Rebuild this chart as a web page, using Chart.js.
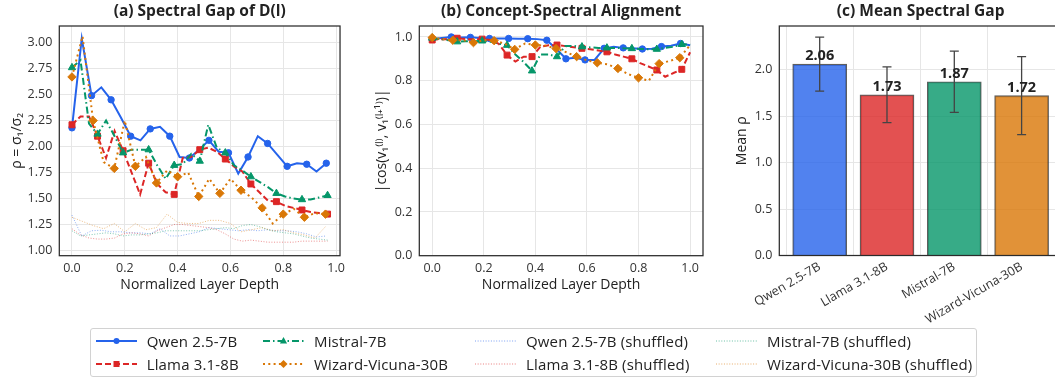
<!DOCTYPE html>
<html lang="en">
<head>
<meta charset="UTF-8">
<title>Spectral gap across layers</title>
<script src="https://cdn.jsdelivr.net/npm/chart.js@4.4.1/dist/chart.umd.min.js"></script>
<style>
    body {
        margin: 0;
        width: 1055px;
        height: 381px;
        overflow: hidden;
        background: #fff;
        position: relative;
        font-family: 'Open Sans', sans-serif;
    }
    .panel { position: absolute; top: 0; }
    #boxA { left: 0; }
    #boxB { left: 360px; }
    #boxC { left: 715px; }
    .legend {
        position: absolute;
        left: 90px;
        top: 328px;
        width: 887px;
        height: 49px;
        border: 1px solid #d2d2d2;
        border-radius: 3px;
        box-sizing: border-box;
    }
    .item {
        position: absolute;
        height: 20px;
        display: flex;
        align-items: center;
        font-size: 15px;
        letter-spacing: 0.15px;
        color: #222;
        white-space: nowrap;
    }
    .item svg { margin-right: 10px; }
</style>
</head>
<body>

<div class="panel" id="boxA"><canvas id="chartA" width="350" height="300"></canvas></div>
<div class="panel" id="boxB"><canvas id="chartB" width="350" height="300"></canvas></div>
<div class="panel" id="boxC"><canvas id="chartC" width="350" height="330"></canvas></div>
<div class="legend" id="legend"></div>

<script>
    // models, colours, layer transitions per model and marker spacing
    const models = ['Qwen 2.5-7B', 'Llama 3.1-8B', 'Mistral-7B', 'Wizard-Vicuna-30B'];
    const colors = ['#2563eb', '#dc2626', '#059669', '#d97706'];
    const layerSteps = [27, 31, 31, 25];
    const markEvery = [2, 3, 3, 2];

    // (a) spectral gap rho = s1/s2 per layer
    const gapQwen = [2.18, 3.04, 2.49, 2.57, 2.45, 2.28, 2.10, 2.06, 2.17, 2.19, 2.10, 1.90, 1.89, 1.97,
        2.06, 1.95, 1.94, 1.74, 1.90, 2.10, 2.03, 1.92, 1.81, 1.84, 1.83, 1.76, 1.84];
    const gapLlama = [2.21, 2.29, 2.29, 2.10, 1.89, 2.15, 1.96, 1.75, 1.54, 1.84, 1.64, 1.56, 1.54, 1.89,
        1.90, 1.97, 1.99, 1.95, 1.88, 1.81, 1.76, 1.64, 1.56, 1.48, 1.47, 1.43, 1.41, 1.39, 1.37, 1.36, 1.35];
    const gapMistral = [2.76, 2.83, 2.22, 2.12, 2.25, 2.10, 1.94, 1.97, 1.97, 1.97, 1.82, 1.69, 1.82, 1.83,
        1.93, 1.86, 2.21, 1.99, 1.94, 1.82, 1.77, 1.71, 1.66, 1.61, 1.55, 1.52, 1.50, 1.49, 1.49, 1.51, 1.53];
    const gapWizard = [2.67, 3.06, 2.25, 1.85, 1.79, 2.25, 1.81, 1.90, 1.65, 1.77, 1.71, 1.75, 1.52, 1.69,
        1.55, 1.69, 1.58, 1.51, 1.41, 1.26, 1.35, 1.40, 1.32, 1.36, 1.35];

    // (a) shuffled baselines
    const shufQwen = [1.34, 1.14, 1.19, 1.195, 1.18, 1.18, 1.17, 1.17, 1.16, 1.21, 1.14, 1.14, 1.16, 1.18,
        1.22, 1.21, 1.20, 1.19, 1.20, 1.19, 1.20, 1.19, 1.19, 1.18, 1.16, 1.13, 1.14];
    const shufLlama = [1.21, 1.15, 1.12, 1.11, 1.11, 1.12, 1.16, 1.17, 1.16, 1.14, 1.19, 1.22, 1.25, 1.25,
        1.24, 1.23, 1.22, 1.20, 1.16, 1.11, 1.09, 1.10, 1.09, 1.08, 1.08, 1.08, 1.08, 1.09, 1.09, 1.09, 1.09];
    const shufMistral = [1.19, 1.14, 1.15, 1.16, 1.17, 1.16, 1.14, 1.15, 1.15, 1.16, 1.17, 1.19, 1.19, 1.19,
        1.19, 1.19, 1.20, 1.21, 1.22, 1.21, 1.24, 1.25, 1.23, 1.20, 1.18, 1.17, 1.16, 1.14, 1.12, 1.11, 1.10];
    const shufWizard = [1.32, 1.28, 1.24, 1.21, 1.26, 1.18, 1.26, 1.20, 1.22, 1.35, 1.27, 1.26, 1.26, 1.29,
        1.29, 1.26, 1.18, 1.20, 1.22, 1.19, 1.20, 1.17, 1.15, 1.12, 1.23];

    // (b) |cos| between top singular vectors of consecutive layers
    const alignQwen = [0.99, 0.995, 1.0, 0.997, 0.998, 0.995, 0.993, 0.993, 0.993, 0.992, 0.992, 0.99, 0.985, 0.945,
        0.90, 0.905, 0.895, 0.895, 0.948, 0.955, 0.95, 0.948, 0.945, 0.946, 0.956, 0.96, 0.97, 0.962];
    const alignLlama = [0.986, 0.99, 0.99, 0.994, 0.99, 0.99, 0.99, 0.986, 0.969, 0.917, 0.887, 0.91, 0.91, 0.955,
        0.962, 0.963, 0.958, 0.953, 0.948, 0.944, 0.938, 0.932, 0.92, 0.91, 0.90, 0.88, 0.865, 0.849, 0.818, 0.835, 0.852, 0.93];
    const alignMistral = [0.995, 0.99, 0.985, 0.978, 0.98, 0.98, 0.982, 0.978, 0.97, 0.962, 0.92, 0.885, 0.845, 0.92,
        0.92, 0.91, 0.959, 0.959, 0.955, 0.952, 0.95, 0.95, 0.95, 0.948, 0.947, 0.945, 0.944, 0.944, 0.95, 0.955, 0.966, 0.965];
    const alignWizard = [0.997, 0.99, 0.985, 0.985, 0.974, 0.985, 0.983, 0.97, 0.943, 0.97, 0.963, 0.96, 0.947, 0.93,
        0.91, 0.893, 0.882, 0.875, 0.856, 0.83, 0.813, 0.80, 0.878, 0.89, 0.905, 0.963];

    // (c) mean spectral gap and its spread
    const meanGap = [2.06, 1.73, 1.87, 1.72];
    const gapStd = [0.29, 0.30, 0.33, 0.42];

    // tick labels
    const depthTicks = [0, 0.2, 0.4, 0.6, 0.8, 1.0];
    const gapTicks = [1.00, 1.25, 1.50, 1.75, 2.00, 2.25, 2.50, 2.75, 3.00];
    const alignTicks = [0, 0.2, 0.4, 0.6, 0.8, 1.0];
    const meanTicks = [0, 0.5, 1.0, 1.5, 2.0];

    const dashes = [[], [6, 3], [7, 3, 1.5, 3], [2, 3.3]];
    const markers = ['circle', 'rect', 'triangle', 'rectRot'];
    const markerSize = [3.2, 4.2, 4.2, 4.2];

    Chart.defaults.font.family = "'Open Sans', sans-serif";
    Chart.defaults.color = '#333';

    const tickFont = { size: 12.5 };
    const axisFont = { size: 14 };
    const titleFont = { size: 15.5, weight: 'bold' };

    function alpha(hex, a) {
        const n = parseInt(hex.slice(1), 16);
        return `rgba(${n >> 16}, ${(n >> 8) & 255}, ${n & 255}, ${a})`;
    }

    function points(vals, steps) {
        return vals.map((v, i) => ({ x: i / steps, y: v }));
    }

    function modelLine(m, vals) {
        return {
            label: models[m],
            data: points(vals, layerSteps[m]),
            borderColor: colors[m],
            backgroundColor: colors[m],
            borderWidth: 2,
            borderDash: dashes[m],
            pointStyle: markers[m],
            pointRadius: ctx => ctx.dataIndex % markEvery[m] === 0 ? markerSize[m] : 0,
            pointBorderWidth: 1,
            pointBorderColor: colors[m],
            pointBackgroundColor: colors[m],
            tension: 0,
            order: 10 - m
        };
    }

    function shuffledLine(m, vals) {
        return {
            label: models[m] + ' (shuffled)',
            data: points(vals, layerSteps[m]),
            borderColor: alpha(colors[m], 0.5),
            borderWidth: 1,
            borderDash: [1, 1.65],
            pointRadius: 0,
            tension: 0,
            order: 5 - m
        };
    }

    // box round the plot area, like matplotlib spines
    const frame = {
        id: 'frame',
        afterDraw(chart) {
            const { ctx, chartArea: a } = chart;
            ctx.save();
            ctx.strokeStyle = '#2b2b2b';
            ctx.lineWidth = 1.25;
            ctx.strokeRect(a.left, a.top, a.right - a.left, a.bottom - a.top);
            ctx.restore();
        }
    };

    const grid = { color: '#e6e6e6', lineWidth: 1, drawTicks: false };
    // fullSize false keeps the title centred over the plot area
    const chartTitle = text => ({
        display: true, text: text, color: '#222', font: titleFont, fullSize: false,
        padding: { top: 2.5, bottom: 4.9 }
    });

    function tickList(list) {
        return scale => { scale.ticks = list.map(v => ({ value: v })); };
    }

    function lineOptions(title, yTitle, yMin, yMax, yList, yDigits, xMin, xMax, yTitlePad) {
        return {
            responsive: false,
            animation: false,
            devicePixelRatio: 1,
            layout: { padding: { left: 0, right: 7, top: 0, bottom: 0 } },
            plugins: {
                legend: { display: false },
                tooltip: { enabled: false },
                title: chartTitle(title)
            },
            scales: {
                x: {
                    type: 'linear', min: xMin, max: xMax,
                    afterBuildTicks: tickList(depthTicks),
                    afterFit: s => { s.height = 44.3; },
                    grid: grid,
                    border: { display: false },
                    ticks: { callback: v => v.toFixed(1), font: tickFont, padding: 5, maxRotation: 0 },
                    title: {
                        display: true, text: 'Normalized Layer Depth', color: '#222',
                        font: axisFont, padding: { top: 0, bottom: 6.6 }
                    }
                },
                y: {
                    min: yMin, max: yMax,
                    afterBuildTicks: tickList(yList),
                    afterFit: s => { s.width = 59.3; },
                    grid: grid,
                    border: { display: false },
                    ticks: { callback: v => v.toFixed(yDigits), font: tickFont, padding: 7 },
                    title: {
                        display: true, text: yTitle, color: '#222',
                        font: axisFont, padding: { top: yTitlePad, bottom: 0 }
                    }
                }
            }
        };
    }

    new Chart(document.getElementById('chartA'), {
        type: 'line',
        data: {
            datasets: [
                modelLine(0, gapQwen), modelLine(1, gapLlama), modelLine(2, gapMistral), modelLine(3, gapWizard),
                shuffledLine(0, shufQwen), shuffledLine(1, shufLlama), shuffledLine(2, shufMistral), shuffledLine(3, shufWizard)
            ]
        },
        options: lineOptions('(a) Spectral Gap of D(l)', 'ρ = σ₁/σ₂', 0.95, 3.16, gapTicks, 2, -0.048, 1.015, 9.1),
        plugins: [frame]
    });

    new Chart(document.getElementById('chartB'), {
        type: 'line',
        data: {
            datasets: [
                modelLine(0, alignQwen), modelLine(1, alignLlama), modelLine(2, alignMistral), modelLine(3, alignWizard)
            ]
        },
        options: lineOptions('(b) Concept-Spectral Alignment', '|cos(v₁⁽ˡ⁾, v₁⁽ˡ⁺¹⁾)|', 0, 1.05, alignTicks, 1, -0.05, 1.05, 14.1),
        plugins: [frame]
    });

    // error bars and value labels on the mean-gap bars
    const barExtras = {
        id: 'barExtras',
        afterDatasetsDraw(chart) {
            const { ctx, scales: { x, y } } = chart;
            ctx.save();
            ctx.strokeStyle = '#444';
            ctx.lineWidth = 1.3;
            meanGap.forEach((v, i) => {
                const px = x.getPixelForValue(i);
                const top = y.getPixelForValue(v + gapStd[i]);
                const bot = y.getPixelForValue(v - gapStd[i]);
                ctx.beginPath();
                ctx.moveTo(px, top); ctx.lineTo(px, bot);
                ctx.moveTo(px - 4.5, top); ctx.lineTo(px + 4.5, top);
                ctx.moveTo(px - 4.5, bot); ctx.lineTo(px + 4.5, bot);
                ctx.stroke();
            });
            ctx.fillStyle = '#222';
            ctx.font = "bold 14.5px 'Open Sans', sans-serif";
            ctx.textAlign = 'center';
            ctx.textBaseline = 'bottom';
            meanGap.forEach((v, i) => {
                ctx.fillText(v.toFixed(2), x.getPixelForValue(i), y.getPixelForValue(v) - 1);
            });
            ctx.restore();
        }
    };

    new Chart(document.getElementById('chartC'), {
        type: 'bar',
        data: {
            datasets: [{
                label: 'Mean ρ',
                data: meanGap.map((v, i) => ({ x: i, y: v })),
                backgroundColor: colors.map(c => alpha(c, 0.8)),
                borderColor: 'rgba(40, 40, 40, 0.75)',
                borderWidth: 1.2,
                barThickness: 54
            }]
        },
        options: {
            responsive: false,
            animation: false,
            devicePixelRatio: 1,
            layout: { padding: { left: 0, right: 3, top: 0, bottom: 0 } },
            plugins: {
                legend: { display: false },
                tooltip: { enabled: false },
                title: chartTitle('(c) Mean Spectral Gap')
            },
            scales: {
                x: {
                    type: 'linear', min: -0.6, max: 3.6, offset: false,
                    afterBuildTicks: tickList([0, 1, 2, 3]),
                    afterFit: s => { s.height = 74.5; },
                    grid: grid,
                    border: { display: false },
                    ticks: { callback: v => models[v], font: tickFont, padding: 4, minRotation: 30, maxRotation: 30 }
                },
                y: {
                    min: 0, max: 2.47,
                    afterBuildTicks: tickList(meanTicks),
                    afterFit: s => { s.width = 64.3; },
                    grid: grid,
                    border: { display: false },
                    ticks: { callback: v => v.toFixed(1), font: tickFont, padding: 7 },
                    title: {
                        display: true, text: 'Mean ρ', color: '#222',
                        font: axisFont, padding: { top: 18.3, bottom: 0 }
                    }
                }
            }
        },
        plugins: [frame, barExtras]
    });

    // legend: four columns, filled column by column like matplotlib
    const legendItems = [
        { m: 0, shuffled: false }, { m: 1, shuffled: false },
        { m: 2, shuffled: false }, { m: 3, shuffled: false },
        { m: 0, shuffled: true }, { m: 1, shuffled: true },
        { m: 2, shuffled: true }, { m: 3, shuffled: true }
    ];
    const colLeft = [95.7, 263, 475, 716];
    const rowTop = [2.3, 24.7];

    function markerSvg(m, color) {
        const cx = 20.5, cy = 6;
        if (m === 0) return `<circle cx="${cx}" cy="${cy}" r="3" fill="${color}"/>`;
        if (m === 1) return `<rect x="${cx - 3}" y="${cy - 3}" width="6" height="6" fill="${color}"/>`;
        if (m === 2) return `<polygon points="${cx},${cy - 4} ${cx + 3.6},${cy + 2.5} ${cx - 3.6},${cy + 2.5}" fill="${color}"/>`;
        return `<polygon points="${cx},${cy - 4} ${cx + 4},${cy} ${cx},${cy + 4} ${cx - 4},${cy}" fill="${color}"/>`;
    }

    const legend = document.getElementById('legend');
    legendItems.forEach((it, k) => {
        const col = Math.floor(k / 2), row = k % 2;
        const color = it.shuffled ? alpha(colors[it.m], 0.6) : colors[it.m];
        const dash = it.shuffled ? '1 1.65' : dashes[it.m].join(' ');
        const width = it.shuffled ? 1 : 2;
        const svg = `<svg width="41" height="12">
            <line x1="0" y1="6" x2="41" y2="6" stroke="${color}" stroke-width="${width}" stroke-dasharray="${dash}"/>
            ${it.shuffled ? '' : markerSvg(it.m, color)}</svg>`;
        const div = document.createElement('div');
        div.className = 'item';
        div.style.left = (colLeft[col] - 91) + 'px';
        div.style.top = rowTop[row] + 'px';
        div.innerHTML = svg + `<span>${models[it.m]}${it.shuffled ? ' (shuffled)' : ''}</span>`;
        legend.appendChild(div);
    });
</script>
</body>
</html>
